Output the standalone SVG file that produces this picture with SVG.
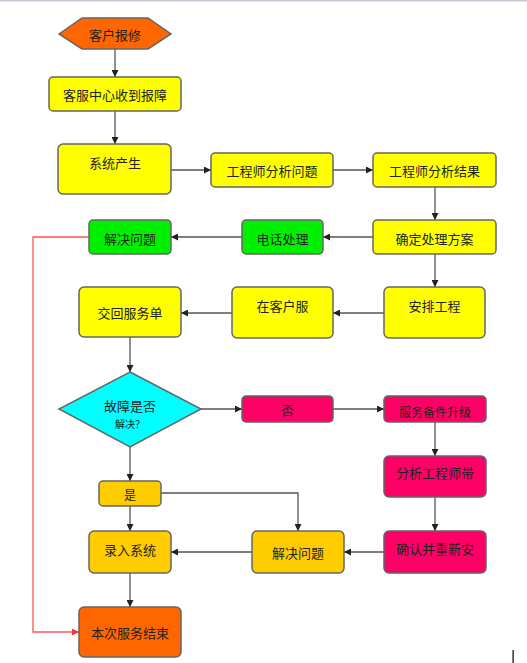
<svg xmlns="http://www.w3.org/2000/svg" width="527" height="663" viewBox="0 0 527 663">
<style>
.n{stroke:#666;stroke-width:1.5}
.y{fill:#FFFF00}.g{fill:#00F000}.c{fill:#00FFFF}.r{fill:#FF0066}.o{fill:#FFCC00}.h{fill:#FF6600}
text{font-family:"Noto Sans CJK SC","Liberation Sans",sans-serif;font-size:13px;fill:#222;text-anchor:middle;dominant-baseline:central}
.e{fill:none;stroke:#555;stroke-width:1.3}
.red{fill:none;stroke:#FF5555;stroke-width:1.3}
</style>
<defs>
<marker id="a" viewBox="0 0 10 10" refX="10" refY="5" markerWidth="7" markerHeight="7" markerUnits="userSpaceOnUse" orient="auto"><path d="M0,0L10,5L0,10z" fill="#222"/></marker>
<marker id="ar" viewBox="0 0 10 10" refX="10" refY="5" markerWidth="7" markerHeight="7" markerUnits="userSpaceOnUse" orient="auto"><path d="M0,0L10,5L0,10z" fill="#FF3333"/></marker>
</defs>
<rect x="0" y="0" width="527" height="1.5" fill="#c4c8d2"/>
<g id="connectors">
<path class="e" d="M115,49V77" marker-end="url(#a)"/>
<path class="e" d="M115,111V144" marker-end="url(#a)"/>
<path class="e" d="M171,170H211" marker-end="url(#a)"/>
<path class="e" d="M333,170H373" marker-end="url(#a)"/>
<path class="e" d="M435,187V220" marker-end="url(#a)"/>
<path class="e" d="M373,237H323" marker-end="url(#a)"/>
<path class="e" d="M242,237H171" marker-end="url(#a)"/>
<path class="red" d="M89,237H33V632H79" marker-end="url(#ar)"/>
<path class="e" d="M435,254V287" marker-end="url(#a)"/>
<path class="e" d="M384,313H333" marker-end="url(#a)"/>
<path class="e" d="M232,313H181" marker-end="url(#a)"/>
<path class="e" d="M130,337V372" marker-end="url(#a)"/>
<path class="e" d="M201,409H242" marker-end="url(#a)"/>
<path class="e" d="M333,409H384" marker-end="url(#a)"/>
<path class="e" d="M435,422V456" marker-end="url(#a)"/>
<path class="e" d="M435,497V531" marker-end="url(#a)"/>
<path class="e" d="M384,552H344" marker-end="url(#a)"/>
<path class="e" d="M130,447V481" marker-end="url(#a)"/>
<path class="e" d="M161,493H298V531" marker-end="url(#a)"/>
<path class="e" d="M130,506V531" marker-end="url(#a)"/>
<path class="e" d="M252,552H171" marker-end="url(#a)"/>
<path class="e" d="M130,573V607" marker-end="url(#a)"/>
</g>
<g id="n1"><polygon class="n h" points="59,34 82,18 148,18 171,34 148,49 82,49"/><text x="115" y="34">客户报修</text></g>
<g id="n2"><rect class="n y" x="49" y="77" width="132" height="34" rx="4"/><text x="115" y="94">客服中心收到报障</text></g>
<g id="n3"><rect class="n y" x="58" y="144" width="113" height="50" rx="5"/><text x="115" y="162">系统产生</text></g>
<g id="n4"><rect class="n y" x="211" y="153" width="122" height="34" rx="4"/><text x="272" y="170">工程师分析问题</text></g>
<g id="n5"><rect class="n y" x="373" y="153" width="123" height="34" rx="4"/><text x="434.5" y="170">工程师分析结果</text></g>
<g id="n6"><rect class="n y" x="373" y="220" width="123" height="34" rx="4"/><text x="434.5" y="238">确定处理方案</text></g>
<g id="n7"><rect class="n g" x="242" y="220" width="81" height="34" rx="4"/><text x="282.5" y="238">电话处理</text></g>
<g id="n8"><rect class="n g" x="89" y="220" width="82" height="34" rx="4"/><text x="130" y="238">解决问题</text></g>
<g id="n9"><rect class="n y" x="384" y="287" width="101" height="51" rx="5"/><text x="434.5" y="305">安排工程</text></g>
<g id="n10"><rect class="n y" x="232" y="287" width="101" height="51" rx="5"/><text x="282.5" y="305">在客户服</text></g>
<g id="n11"><rect class="n y" x="79" y="287" width="102" height="50" rx="5"/><text x="130" y="312">交回服务单</text></g>
<g id="n12"><polygon class="n c" points="130,372 201,409 130,447 59,409"/><text x="130" y="405">故障是否</text><text x="130" y="423" style="font-size:10px">解决？</text></g>
<g id="n13"><rect class="n r" x="242" y="396" width="91" height="26" rx="4"/><text x="287.5" y="409">否</text></g>
<g id="n14"><rect class="n r" x="384" y="396" width="102" height="26" rx="4"/><text x="435" y="411" style="font-size:12px">服务备件升级</text></g>
<g id="n15"><rect class="n r" x="384" y="456" width="102" height="41" rx="5"/><text x="435" y="472">分析工程师带</text></g>
<g id="n16"><rect class="n r" x="384" y="531" width="102" height="42" rx="5"/><text x="435" y="548">确认并重新安</text></g>
<g id="n17"><rect class="n o" x="252" y="531" width="92" height="42" rx="5"/><text x="298" y="552">解决问题</text></g>
<g id="n18"><rect class="n o" x="99" y="481" width="62" height="25" rx="4"/><text x="130" y="494" style="font-size:12px">是</text></g>
<g id="n19"><rect class="n o" x="89" y="531" width="82" height="42" rx="5"/><text x="130" y="549">录入系统</text></g>
<g id="n20"><rect class="n h" x="79" y="607" width="102" height="50" rx="5"/><text x="130" y="632">本次服务结束</text></g>
<rect x="512.5" y="650" width="1.2" height="13" fill="#000"/>
</svg>
